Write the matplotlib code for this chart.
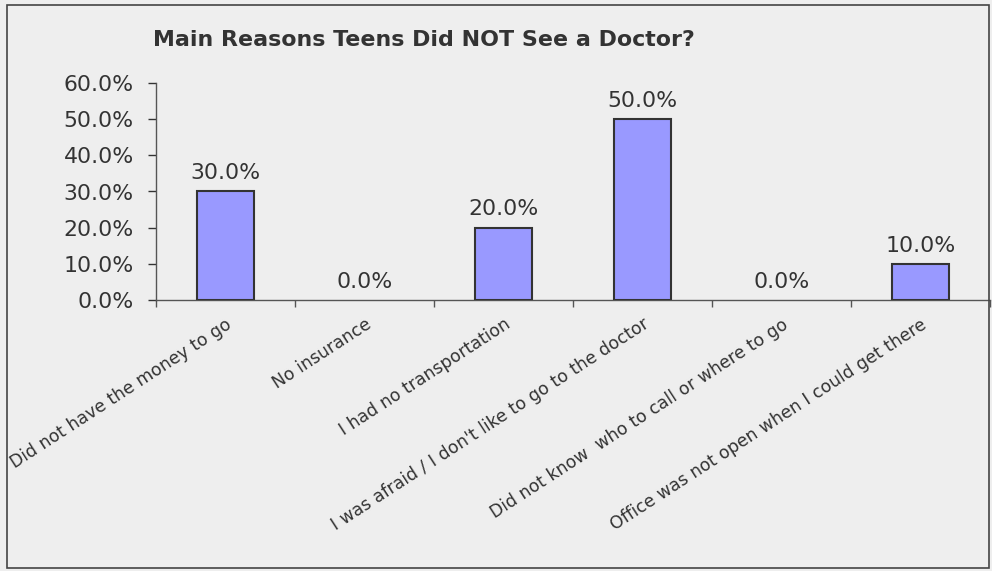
import matplotlib
matplotlib.use("Agg")
import matplotlib.pyplot as plt
import numpy as np
from matplotlib.ticker import PercentFormatter, FixedLocator, NullFormatter

categories = [
    "Did not have the money to go",
    "No insurance",
    "I had no transportation",
    "I was afraid / I don't like to go to the doctor",
    "Did not know  who to call or where to go",
    "Office was not open when I could get there",
]
values = [30.0, 0.0, 20.0, 50.0, 0.0, 10.0]
yticks = [0, 10, 20, 30, 40, 50, 60]
title = "Main Reasons Teens Did NOT See a Doctor?"

bg = "#EEEEEE"
txt = "#333333"

fig = plt.figure(figsize=(9.92, 5.71), dpi=100, facecolor=bg)
# figure border
fig.patches.append(plt.Rectangle((7/992, 3/571), 982/992, 563/571, transform=fig.transFigure,
                                 fill=False, edgecolor="#444444", linewidth=1.2))

ax = fig.add_axes([156/992, 1-300/571, (990-156)/992, (300-83)/571])
ax.set_facecolor(bg)
x = np.arange(len(categories))
bars = ax.bar(x, values, width=0.41, color="#9999FF", edgecolor="#333333", linewidth=1.5, zorder=3)
for b, v in zip(bars, values):
    if v == 0:
        b.set_linewidth(0)

ax.set_xlim(-0.5, len(categories) - 0.5)
ax.set_ylim(0, 60)
ax.set_yticks(yticks)
ax.yaxis.set_major_formatter(PercentFormatter(decimals=1))
ax.tick_params(axis="y", labelsize=15.8, colors=txt, length=6, width=1, pad=10)

# category boundary ticks
ax.xaxis.set_major_locator(FixedLocator(np.arange(-0.5, len(categories), 1.0)))
ax.xaxis.set_major_formatter(NullFormatter())
ax.tick_params(axis="x", length=5, width=1, colors="#555555")
ax.set_xticks(x, minor=True)
ax.set_xticklabels(categories, minor=True, rotation=33, ha="right", rotation_mode="anchor",
                   fontsize=12.4, color=txt)
ax.tick_params(axis="x", which="minor", length=0, pad=11)

for s in ["top", "right"]:
    ax.spines[s].set_visible(False)
for s in ["left", "bottom"]:
    ax.spines[s].set_color("#555555")
    ax.spines[s].set_linewidth(1)

for xi, v in zip(x, values):
    ax.annotate(f"{v:.1f}%", (xi, v), xytext=(0, 6), textcoords="offset points",
                ha="center", va="bottom", fontsize=15.8, color=txt)

fig.text(153/992, 1-40/571, title, ha="left", va="center", fontsize=15.9,
         fontweight="bold", family="DejaVu Sans", color=txt)

fig.savefig("out.png", dpi=100, facecolor=bg)
